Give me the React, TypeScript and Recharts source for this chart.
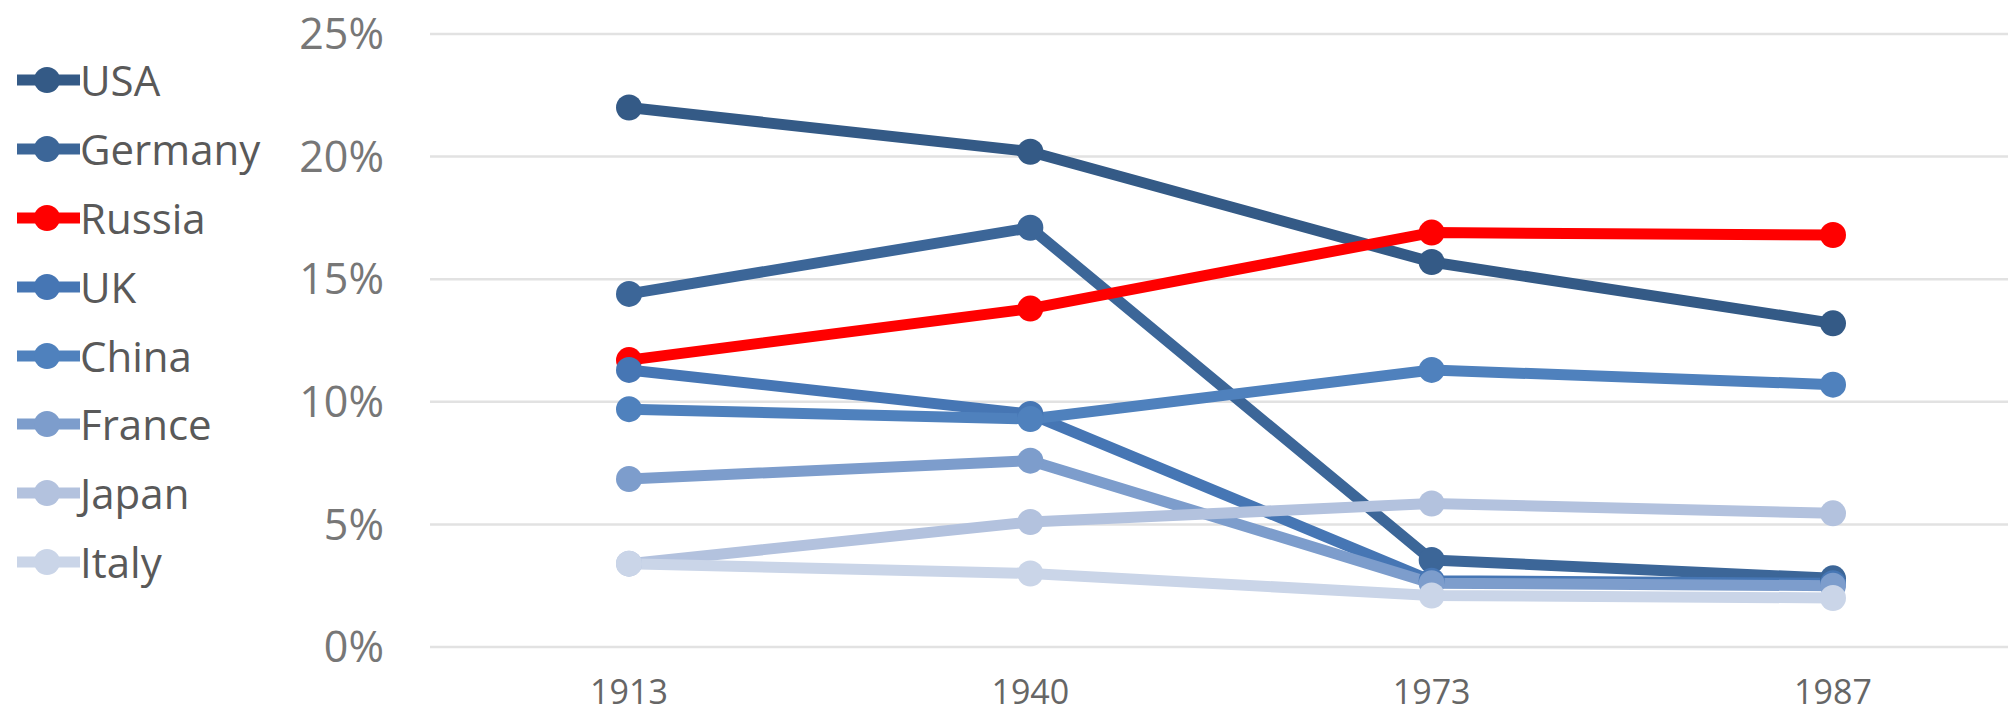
import React from "react";
import { LineChart, Line, XAxis, YAxis, CartesianGrid } from "recharts";

const years = ["1913", "1940", "1973", "1987"];
const usa = [22.0, 20.2, 15.7, 13.2];
const germany = [14.4, 17.1, 3.55, 2.8];
const russia = [11.7, 13.8, 16.9, 16.8];
const uk = [11.3, 9.5, 2.7, 2.6];
const china = [9.7, 9.3, 11.3, 10.7];
const france = [6.85, 7.6, 2.6, 2.5];
const japan = [3.4, 5.1, 5.85, 5.45];
const italy = [3.4, 3.0, 2.1, 2.0];
const yTicks = [0, 5, 10, 15, 20, 25];

const SERIES = [
  { key: "USA", values: usa, color: "#345a86" },
  { key: "Germany", values: germany, color: "#3c6698" },
  { key: "Russia", values: russia, color: "#ff0000" },
  { key: "UK", values: uk, color: "#4676b4" },
  { key: "China", values: china, color: "#4f81bd" },
  { key: "France", values: france, color: "#7d9dcc" },
  { key: "Japan", values: japan, color: "#b3c2de" },
  { key: "Italy", values: italy, color: "#cad5e8" },
];

const data = years.map((year, i) => {
  const row: Record<string, string | number> = { year };
  SERIES.forEach(s => { row[s.key] = s.values[i]; });
  return row;
});

const FONT = "'Open Sans', 'Noto Sans', sans-serif";

// legend sits to the left of the plot, outside the chart's own layout
function LegendBox() {
  return (
    <div style={{ position: "absolute", left: 0, top: 46, fontFamily: FONT }}>
      {SERIES.map(s => (
        <div key={s.key} style={{ display: "flex", alignItems: "center", height: 68.8 }}>
          <svg width={80} height={30} style={{ flexShrink: 0 }}>
            <line x1={17} x2={80} y1={15} y2={15} stroke={s.color} strokeWidth={11} />
            <circle cx={47} cy={15} r={13} fill={s.color} />
          </svg>
          <span style={{ fontSize: 42, color: "#595959", lineHeight: 1, whiteSpace: "nowrap" }}>{s.key}</span>
        </div>
      ))}
    </div>
  );
}

export default function App() {
  return (
    <div style={{ position: "fixed", left: 0, top: 0, width: 2008, height: 715, background: "#fff", overflow: "hidden" }}>
      <LineChart width={2008} height={715} data={data} margin={{ top: 34, right: 0, bottom: 0, left: 0 }}>
        <CartesianGrid vertical={false} stroke="#e2e2e2" strokeWidth={2.5} />
        <XAxis
          dataKey="year"
          axisLine={false}
          tickLine={false}
          tickSize={0}
          tickMargin={33}
          height={68}
          padding={{ left: 199, right: 175 }}
          tick={{ fontSize: 34, fill: "#666666", fontFamily: FONT }}
        />
        <YAxis
          domain={[0, 25]}
          ticks={yTicks}
          tickFormatter={(v: number) => `${v}%`}
          axisLine={false}
          tickLine={false}
          tickSize={0}
          tickMargin={46}
          width={430}
          tick={{ fontSize: 43, fill: "#777777", fontFamily: FONT }}
        />
        {SERIES.map(s => (
          <Line
            key={s.key}
            type="linear"
            dataKey={s.key}
            stroke={s.color}
            strokeWidth={11}
            strokeLinejoin="round"
            dot={{ r: 13, fill: s.color, stroke: s.color, strokeWidth: 0 }}
            activeDot={false}
            isAnimationActive={false}
          />
        ))}
      </LineChart>
      <LegendBox />
    </div>
  );
}
